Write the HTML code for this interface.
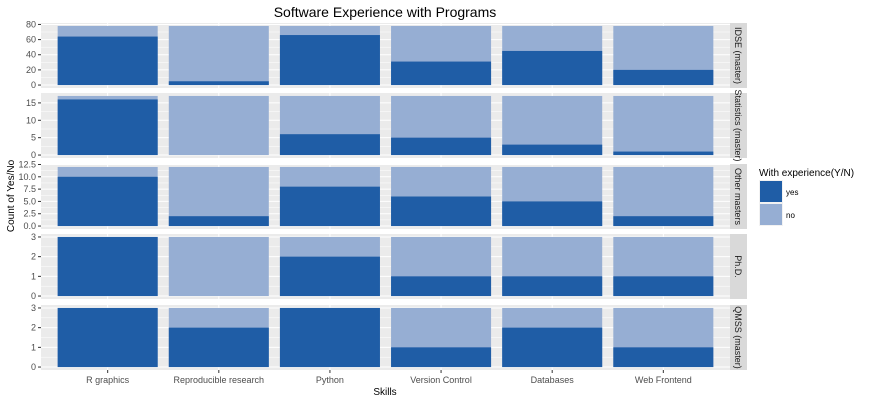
<!DOCTYPE html>
<html><head><meta charset="utf-8"><style>
body{margin:0;background:#fff;}
svg{display:block;font-family:"Liberation Sans",Arial,sans-serif;}
</style></head><body>
<svg id="s" width="873" height="402" xmlns="http://www.w3.org/2000/svg"></svg>
<script>
const s=document.getElementById('s');
let h='';
const X0=41,X1=730,W=X1-X0,cw=W/6.2,bw=cw*0.9;
const tops=[23,93,164,234,305],PH=65;
const T=[78,17,12,3,3];
const yes=[[64,5,66,31,45,20],[16,0,6,5,3,1],[10,2,8,6,5,2],[3,0,2,1,1,1],[3,2,3,1,2,1]];
const ticks=[[0,20,40,60,80],[0,5,10,15],[0,2.5,5,7.5,10,12.5],[0,1,2,3],[0,1,2,3]];
const labs=[null,null,['0.0','2.5','5.0','7.5','10.0','12.5'],null,null];
const strips=['IDSE (master)','Statistics (master)','Other masters','Ph.D.','QMSS (master)'];
const cats=['R graphics','Reproducible research','Python','Version Control','Databases','Web Frontend'];
const D='#1F5DA6',L='#96AED3';
for(let p=0;p<5;p++){
 const t=tops[p],b=t+PH,lo=-0.05*T[p],hi=1.05*T[p];
 const Y=v=>b-(v-lo)/(hi-lo)*PH;
 h+=`<rect x="${X0}" y="${t}" width="${W}" height="${PH}" fill="#EBEBEB"/>`;
 const tk=ticks[p];
 for(let i=0;i<tk.length;i++){
  if(i<tk.length-1){const m=(tk[i]+tk[i+1])/2;if(m<hi)h+=`<line x1="${X0}" x2="${X1}" y1="${Y(m)}" y2="${Y(m)}" stroke="#fff" stroke-width="0.5"/>`;}
  h+=`<line x1="${X0}" x2="${X1}" y1="${Y(tk[i])}" y2="${Y(tk[i])}" stroke="#fff" stroke-width="1"/>`;
  h+=`<line x1="${X0-3}" x2="${X0}" y1="${Y(tk[i])}" y2="${Y(tk[i])}" stroke="#333" stroke-width="1"/>`;
  h+=`<text x="${X0-5}" y="${Y(tk[i])+3}" font-size="9" fill="#4D4D4D" text-anchor="end">${labs[p]?labs[p][i]:tk[i]}</text>`;
 }
 for(let c=0;c<6;c++){
  const cx=X0+cw*(c+0.6);
  h+=`<line x1="${cx}" x2="${cx}" y1="${t}" y2="${b}" stroke="#fff" stroke-width="1"/>`;
  const x=cx-bw/2;
  h+=`<rect x="${x}" y="${Y(T[p])}" width="${bw}" height="${Y(0)-Y(T[p])}" fill="${L}"/>`;
  h+=`<rect x="${x}" y="${Y(yes[p][c])}" width="${bw}" height="${Y(0)-Y(yes[p][c])}" fill="${D}"/>`;
 }
 h+=`<rect x="${X1}" y="${t}" width="17" height="${PH}" fill="#D9D9D9"/>`;
 h+=`<text transform="translate(${X1+5},${t+PH/2}) rotate(90)" font-size="9" fill="#1A1A1A" text-anchor="middle">${strips[p]}</text>`;
}
for(let c=0;c<6;c++){
 const cx=X0+cw*(c+0.6);
 h+=`<line x1="${cx}" x2="${cx}" y1="370" y2="373" stroke="#333"/>`;
 h+=`<text x="${cx}" y="383" font-size="9" fill="#4D4D4D" text-anchor="middle">${cats[c]}</text>`;
}
h+=`<text x="385" y="17" font-size="14" fill="#000" text-anchor="middle">Software Experience with Programs</text>`;
h+=`<text x="385" y="395" font-size="10" fill="#000" text-anchor="middle">Skills</text>`;
h+=`<text transform="translate(14,196) rotate(-90)" font-size="10" fill="#000" text-anchor="middle">Count of Yes/No</text>`;
h+=`<text x="759" y="176" font-size="10" fill="#000">With experience(Y/N)</text>`;
h+=`<rect x="759" y="180" width="24" height="23" fill="#F2F2F2"/><rect x="760" y="181" width="22" height="21" fill="${D}"/>`;
h+=`<rect x="759" y="203" width="24" height="23" fill="#F2F2F2"/><rect x="760" y="204" width="22" height="21" fill="${L}"/>`;
h+=`<text x="786" y="195" font-size="8" fill="#000">yes</text>`;
h+=`<text x="786" y="218" font-size="8" fill="#000">no</text>`;
s.innerHTML=h;
</script>
</body></html>
